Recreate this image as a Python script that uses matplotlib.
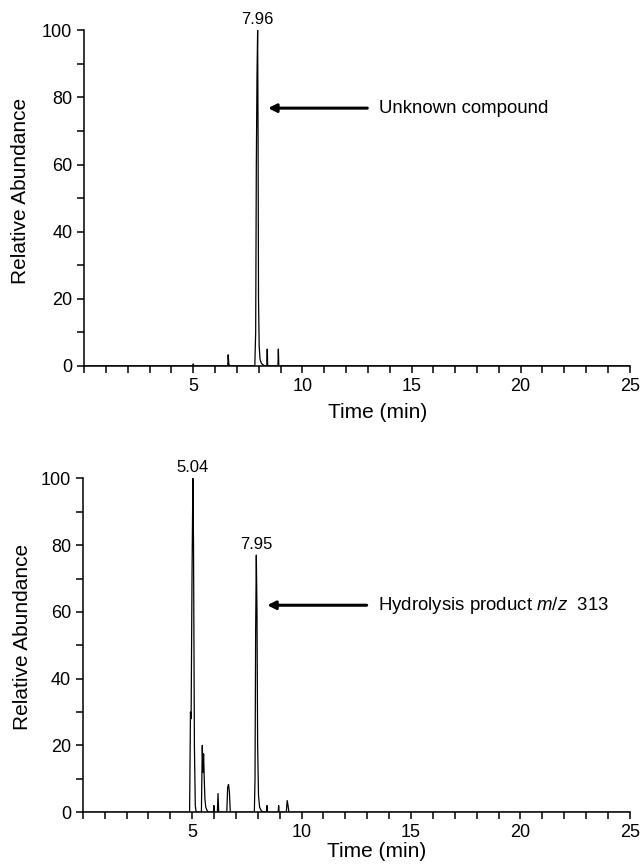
import matplotlib
matplotlib.use("Agg")
import matplotlib.pyplot as plt
from matplotlib.ticker import MultipleLocator, FixedLocator

plt.rcParams['font.family'] = ['Liberation Sans', 'DejaVu Sans']
plt.rcParams['mathtext.fontset'] = 'custom'
plt.rcParams['mathtext.it'] = 'Liberation Sans:italic'
plt.rcParams['mathtext.rm'] = 'Liberation Sans'

# top trace (unknown compound)
t_top = [0, 4.98, 5.0, 5.02, 6.58, 6.6, 6.63, 6.67, 7.82, 7.86, 7.89, 7.92, 7.95, 7.97,
         7.99, 8.02, 8.06, 8.12, 8.2, 8.3, 8.37, 8.39, 8.41, 8.88, 8.9, 8.92, 25]
a_top = [0, 0, 0.6, 0, 0, 3.3, 0.6, 0, 0, 10, 60, 86, 100, 68,
         20, 6, 2, 0.8, 0.3, 0, 0, 5, 0, 0, 5, 0, 0]

# bottom trace (hydrolysis product)
t_bot = [0, 4.88, 4.92, 4.95, 4.99, 5.03, 5.06, 5.1, 5.14, 5.18, 5.42, 5.46, 5.49, 5.52,
         5.55, 5.58, 5.62, 5.68, 5.75, 5.97, 5.99, 6.01, 6.15, 6.18, 6.21, 6.58, 6.62,
         6.66, 6.7, 6.74, 7.84, 7.87, 7.9, 7.93, 7.96, 7.99, 8.03, 8.08, 8.15, 8.25,
         8.40, 8.42, 8.44, 8.93, 8.95, 8.97, 9.3, 9.34, 9.38, 9.42, 25]
a_bot = [0, 0, 30, 28, 70, 100, 80, 20, 2, 0, 0, 20, 12, 17.5,
         10, 4, 1.5, 0.5, 0, 0, 2, 0, 0, 5.6, 0, 0, 7.5,
         8.3, 6, 0, 0, 10, 55, 77, 60, 20, 5, 1.5, 0.5, 0,
         0, 2, 0, 0, 2, 0, 0, 3.5, 2, 0, 0]

# trace, peak labels, arrow height, note, axes rect, xlabel y, ylabel (x, y)
panels = [
    (t_top, a_top, [(7.94, 100, "7.96")], 76.8, "Unknown compound",
     [0.131, 0.577, 0.850, 0.388], -0.14, (-0.117, 0.521)),
    (t_bot, a_bot, [(5.03, 100, "5.04"), (7.93, 77, "7.95")], 62,
     r"Hydrolysis product $m/z$  313", [0.129, 0.061, 0.852, 0.386], -0.117, (-0.110, 0.524)),
]

fig = plt.figure(figsize=(6.42, 8.65), dpi=100)

for t, a, peaks, arrow_y, note, rect, xl_y, yl_pos in panels:
    ax = fig.add_axes(rect)
    ax.plot(t, a, color='black', lw=0.9)
    ax.set_xlim(0, 25)
    ax.set_ylim(0, 100)
    ax.spines['top'].set_visible(False)
    ax.spines['right'].set_visible(False)
    ax.spines['left'].set_linewidth(1.1)
    ax.spines['bottom'].set_linewidth(1.1)
    ax.xaxis.set_major_locator(FixedLocator([5, 10, 15, 20, 25]))
    ax.xaxis.set_minor_locator(MultipleLocator(1))
    ax.yaxis.set_major_locator(MultipleLocator(20))
    ax.yaxis.set_minor_locator(MultipleLocator(10))
    ax.tick_params(which='both', direction='out', length=5, width=1.1, labelsize=13)
    ax.set_xlabel("Time (min)", fontsize=15, va='center')
    ax.set_ylabel("Relative Abundance", fontsize=15, va='center')
    ax.xaxis.set_label_coords(0.537, xl_y)
    ax.yaxis.set_label_coords(*yl_pos)
    for px, py, lab in peaks:
        ax.text(px, py + 1, lab, ha='center', va='bottom', fontsize=12, clip_on=False)
    ax.annotate("", xy=(8.3, arrow_y), xytext=(13.1, arrow_y),
                arrowprops=dict(arrowstyle='-|>', lw=2.2, color='black', mutation_scale=12))
    ax.text(13.5, arrow_y, note, ha='left', va='center', fontsize=13.4)

fig.savefig("out.png", dpi=100)
